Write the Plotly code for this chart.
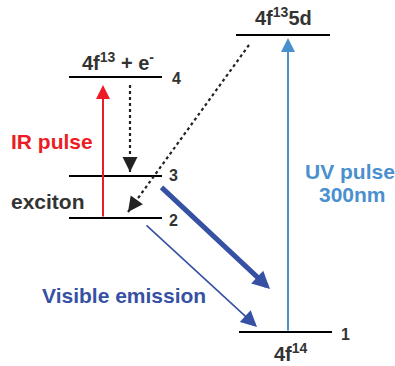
import plotly.graph_objects as go

W, H = 395, 366

# Energy levels: (x0, x1, y) in diagram units
level_names = ["4", "3", "2", "5d", "1"]
level_x0 = [69, 69, 69, 236, 239]
level_x1 = [162, 162, 162, 330, 332]
level_y = [77, 176, 218, 35, 332]

# Level number labels
num_labels = ["4", "3", "2", "1"]
num_x = [176, 173, 173, 345]
num_y = [78, 175, 220, 334]

# Solid arrows: tail (x,y) -> head (x,y), color, width, size
arr_tail_x = [103, 288, 160, 145]
arr_tail_y = [218, 332, 186, 224]
arr_head_x = [103, 288, 270, 257]
arr_head_y = [85, 38, 289, 327]
arr_color = ["#ec1c24", "#4a90cf", "#3651a3", "#3651a3"]
arr_width = [2, 2, 5, 1.6]
arr_size = [1.4, 1.4, 0.7, 2.0]

# Dashed arrows
dash_tail_x = [130, 249]
dash_tail_y = [85, 45]
dash_head_x = [130, 128]
dash_head_y = [172, 212]

fig = go.Figure()

xs, ys = [], []
for a, b, y in zip(level_x0, level_x1, level_y):
    xs += [a, b, None]
    ys += [y, y, None]
fig.add_trace(go.Scatter(x=xs, y=ys, mode="lines",
                         line=dict(color="black", width=2.2),
                         hoverinfo="skip", showlegend=False))

# dashed lines bodies
for tx, ty, hx, hy in zip(dash_tail_x, dash_tail_y, dash_head_x, dash_head_y):
    fig.add_trace(go.Scatter(x=[tx, hx], y=[ty, hy], mode="lines",
                             line=dict(color="#222222", width=2.2, dash="3px,3px"),
                             hoverinfo="skip", showlegend=False))
    dx, dy = hx - tx, hy - ty
    L = (dx ** 2 + dy ** 2) ** 0.5
    fig.add_annotation(x=hx, y=hy, ax=hx - dx / L * 10, ay=hy - dy / L * 10,
                       xref="x", yref="y", axref="x", ayref="y",
                       showarrow=True, arrowhead=2, arrowsize=1.5,
                       arrowwidth=2, arrowcolor="#222222", text="")

for tx, ty, hx, hy, c, w, s in zip(arr_tail_x, arr_tail_y, arr_head_x, arr_head_y,
                                    arr_color, arr_width, arr_size):
    fig.add_annotation(x=hx, y=hy, ax=tx, ay=ty,
                       xref="x", yref="y", axref="x", ayref="y",
                       showarrow=True, arrowhead=2, arrowsize=s,
                       arrowwidth=w, arrowcolor=c, text="")

FONT = "Liberation Sans, Arial, sans-serif"
DARK = "#333333"

for t, x, y in zip(num_labels, num_x, num_y):
    fig.add_annotation(x=x, y=y, text="<b>" + t + "</b>", showarrow=False,
                       font=dict(family=FONT, size=16, color=DARK),
                       xanchor="center", yanchor="middle")

texts = [
    ("<b>4f<sup>13</sup> + e<sup>-</sup></b>", 118, 61, DARK, 20, "center"),
    ("<b>4f<sup>13</sup>5d</b>", 283, 16, DARK, 20, "center"),
    ("<b>4f<sup>14</sup></b>", 291, 352, DARK, 20, "center"),
    ("<b>IR pulse</b>", 9, 141, "#ec1c24", 21, "left"),
    ("<b>exciton</b>", 9, 201, DARK, 21, "left"),
    ("<b>UV pulse</b>", 350, 171, "#4a90cf", 21, "center"),
    ("<b>300nm</b>", 352, 194, "#4a90cf", 21, "center"),
    ("<b>Visible emission</b>", 40, 295, "#3651a3", 21, "left"),
]
for t, x, y, c, s, anc in texts:
    fig.add_annotation(x=x, y=y, text=t, showarrow=False,
                       font=dict(family=FONT, size=s, color=c),
                       xanchor=anc, yanchor="middle")

fig.update_layout(
    width=W, height=H, margin=dict(l=0, r=0, t=0, b=0),
    paper_bgcolor="white", plot_bgcolor="white",
    xaxis=dict(range=[0, W], visible=False, fixedrange=True),
    yaxis=dict(range=[H, 0], visible=False, fixedrange=True),
)

fig.write_html("out.html")
